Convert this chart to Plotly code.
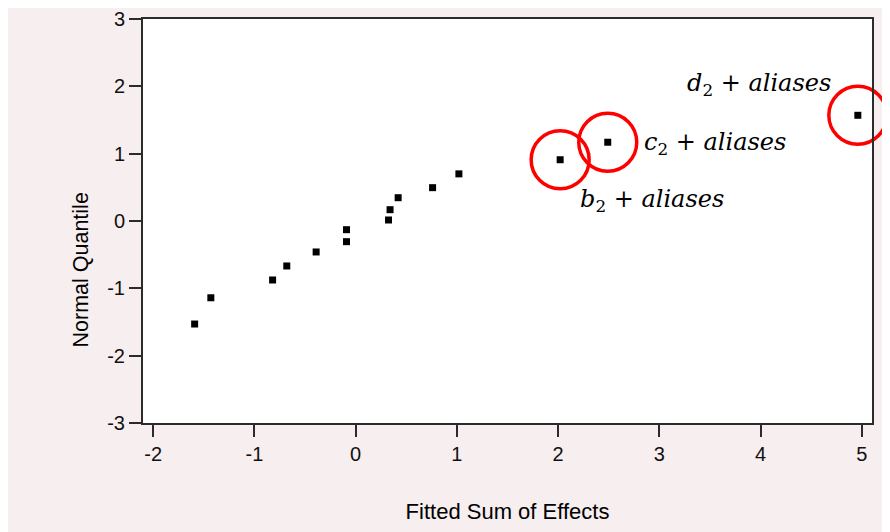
import plotly.graph_objects as go

# Fitted sum of effects (x) vs normal quantile (y)
x_vals = [-1.59, -1.43, -0.82, -0.68, -0.39, -0.09, -0.09, 0.325, 0.34, 0.42, 0.76, 1.02]
y_vals = [-1.53, -1.14, -0.876, -0.668, -0.46, -0.307, -0.129, 0.015, 0.168, 0.346, 0.495, 0.70]

# Highlighted (significant) effects
hl_names = ["b2", "c2", "d2"]
hl_x = [2.02, 2.49, 4.96]
hl_y = [0.91, 1.17, 1.57]
hl_labels = ["<i>b</i><sub>2</sub> + <i>aliases</i>",
             "<i>c</i><sub>2</sub> + <i>aliases</i>",
             "<i>d</i><sub>2</sub> + <i>aliases</i>"]

x_ticks = [-2, -1, 0, 1, 2, 3, 4, 5]
x_ticktext = ["-2", "-1", "0", "1", "2", "3", "4", "5"]
y_ticks = [-3, -2, -1, 0, 1, 2, 3]
y_ticktext = ["-3", "-2", "-1", "0", "1", "2", "3"]

PINK = "#F6EEEF"
AXC = "#2b2b2b"

fig = go.Figure()
fig.add_trace(go.Scatter(x=x_vals + hl_x, y=y_vals + hl_y, mode="markers",
                         marker=dict(symbol="square", size=7, color="black"),
                         showlegend=False, hoverinfo="x+y", cliponaxis=False))
fig.add_trace(go.Scatter(x=hl_x, y=hl_y, mode="markers",
                         marker=dict(symbol="circle-open", size=58,
                                     line=dict(color="#FF0000", width=3.5), color="#FF0000"),
                         showlegend=False, hoverinfo="skip", cliponaxis=False))

# label offsets (pixels) relative to each highlighted point
offsets = {"b2": dict(xanchor="left", xshift=18, yshift=-41),
           "c2": dict(xanchor="left", xshift=34, yshift=-1),
           "d2": dict(xanchor="right", xshift=-25, yshift=31)}
for n, x, y, t in zip(hl_names, hl_x, hl_y, hl_labels):
    fig.add_annotation(x=x, y=y, text=t, showarrow=False, yanchor="middle",
                       font=dict(family="DejaVu Serif", size=24, color="black"),
                       **offsets[n])

# the page body keeps its default 8px margin, so the figure is sized to fit
W, H = 882, 524
L, R, T, B = 135, 18, 11, 109
pw, ph = W - L - R, H - T - B

fig.add_annotation(x=-(L - 58) / pw, y=(H - B - 262.5) / ph, xref="paper", yref="paper",
                   text="Normal Quantile", textangle=-90, showarrow=False,
                   font=dict(family="Liberation Sans", size=21.5, color="black"))

axis_common = dict(showline=True, linecolor=AXC, linewidth=2, mirror=True,
                   ticks="outside", ticklen=12, tickwidth=2, tickcolor=AXC,
                   showgrid=False, zeroline=False, automargin=False,
                   tickfont=dict(family="Liberation Sans", size=20, color="#111111"))

fig.update_xaxes(range=[-2.1, 5.1], tickvals=x_ticks, ticktext=x_ticktext,
                 title=dict(text="Fitted Sum of Effects", standoff=40,
                            font=dict(family="Liberation Sans", size=22, color="black")),
                 **axis_common)
fig.update_yaxes(range=[-3, 3], tickvals=y_ticks, ticktext=y_ticktext, **axis_common)

fig.update_layout(width=W, height=H, margin=dict(l=L, r=R, t=T, b=B),
                  paper_bgcolor=PINK, plot_bgcolor="white")

fig.write_html("out.html")
